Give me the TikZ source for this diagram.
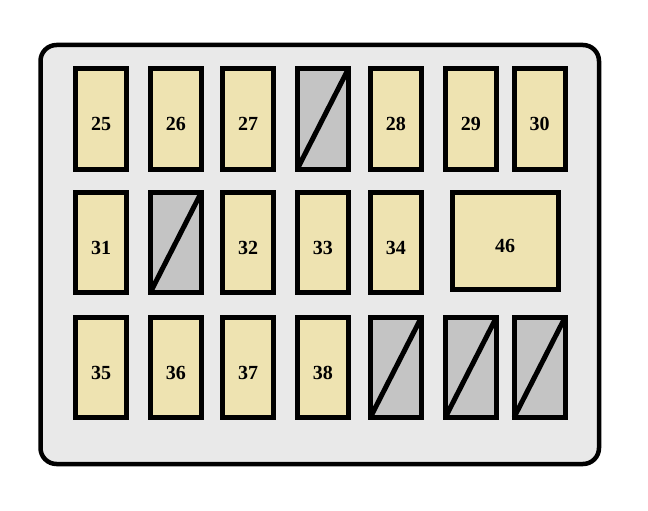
\documentclass[tikz,border=0pt]{standalone}
\usepackage{fontspec}
\setmainfont{Liberation Serif}
\usepackage{xcolor}
\definecolor{fusefill}{HTML}{EEE3B1}
\definecolor{slotfill}{HTML}{C4C4C4}
\definecolor{panelfill}{HTML}{E9E9E9}
\tikzstyle{panel} = [line width=4.5pt, rounded corners=16pt, draw=black, fill=panelfill]
\tikzstyle{fuse} = [rectangle, minimum width=51pt, minimum height=100pt, inner sep=0pt, outer sep=0pt,
line width=5pt, draw=black, fill=fusefill, font=\fontsize{20}{20}\selectfont\bfseries, text height=23pt, text depth=0pt]
\tikzstyle{blank} = [fuse, fill=slotfill]
\tikzstyle{slash} = [line width=5pt]

\begin{document}
\begin{tikzpicture}[x=1pt, y=-1pt]
            \useasboundingbox (0,0) rectangle (648,511);
            \draw[panel] (40.5,45) rectangle (599,464);
            % top row
            \node(f25) [fuse] at (101,119) {25};
            \node(f26) [fuse] at (175.8,119) {26};
            \node(f27) [fuse] at (248,119) {27};
            \node(s1) [blank] at (322.8,119) {};
            \node(f28) [fuse] at (395.8,119) {28};
            \node(f29) [fuse] at (470.8,119) {29};
            \node(f30) [fuse] at (539.5,119) {30};
            % middle row
            \node(f31) [fuse] at (101,242.5) {31};
            \node(s2) [blank] at (175.8,242.5) {};
            \node(f32) [fuse] at (248,242.5) {32};
            \node(f33) [fuse] at (322.8,242.5) {33};
            \node(f34) [fuse] at (395.8,242.5) {34};
            \node(f46) [fuse, minimum width=106pt, minimum height=97pt] at (505,241) {46};
            % bottom row
            \node(f35) [fuse] at (101,367.5) {35};
            \node(f36) [fuse] at (175.8,367.5) {36};
            \node(f37) [fuse] at (248,367.5) {37};
            \node(f38) [fuse] at (322.8,367.5) {38};
            \node(s3) [blank] at (395.8,367.5) {};
            \node(s4) [blank] at (470.8,367.5) {};
            \node(s5) [blank] at (539.5,367.5) {};
            \foreach \s in {s1,s2,s3,s4,s5}
                \draw[slash] (\s.south west) -- (\s.north east);
        \end{tikzpicture}
\end{document}
